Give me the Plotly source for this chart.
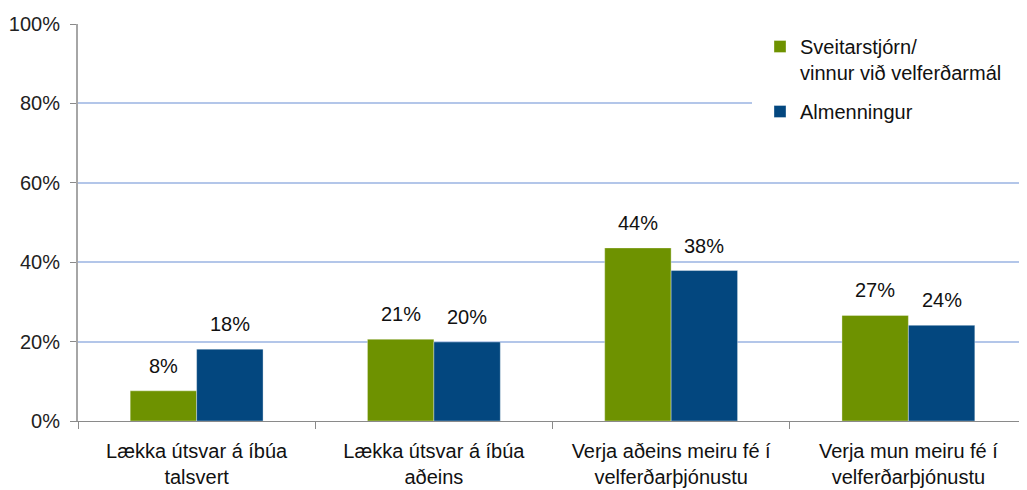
import plotly.graph_objects as go

categories = [
    "Lækka útsvar á íbúa<br>talsvert",
    "Lækka útsvar á íbúa<br>aðeins",
    "Verja aðeins meiru fé í<br>velferðarþjónustu",
    "Verja mun meiru fé í<br>velferðarþjónustu",
]
series_names = ["Sveitarstjórn/<br>vinnur við velferðarmál", "Almenningur"]
sveitarstjorn = [7.6, 20.6, 43.6, 26.6]
almenningur = [18.1, 19.9, 37.9, 24.1]
y_ticks = [0, 20, 40, 60, 80, 100]
y_tick_labels = ["0%", "20%", "40%", "60%", "80%", "100%"]

colors = ["#6E9200", "#03477F"]
FONT = "Liberation Sans, Arial, sans-serif"

# page body has an 8px margin; size the figure so the plot lands where the reference has it
OFF = 8
W, H = 1027 - OFF, 490 - OFF
ML, MR, MT, MB = 78 - OFF, 0, 24 - OFF, 69
plot_w = W - ML - MR
plot_h = H - MT - MB
cat_w = plot_w / len(categories)
BARGAP = 0.44
bar_w = cat_w * (1 - BARGAP) / 2


def px_to_paper_x(px):
    return (px - OFF - ML) / plot_w


def px_to_paper_y(py):
    return (H - MB - (py - OFF)) / plot_h


fig = go.Figure()
for i, (name, vals) in enumerate(zip(series_names, [sveitarstjorn, almenningur])):
    fig.add_trace(go.Bar(
        x=categories, y=vals, name=name,
        marker=dict(color=colors[i], line=dict(color="rgba(255,255,255,0.35)", width=1)),
        legendgroup=f"g{i}",
    ))
    for c, v in zip(categories, vals):
        fig.add_annotation(
            x=c, y=v, text=f"{v:.0f}%", showarrow=False,
            xref="x", yref="y", yanchor="bottom",
            xshift=(i - 0.5) * bar_w, yshift=12,
            font=dict(family=FONT, size=20, color="#111"),
        )

# white legend backdrop covering gridline
fig.add_shape(type="rect", xref="paper", yref="paper",
              x0=px_to_paper_x(752), x1=1.0,
              y0=px_to_paper_y(137), y1=px_to_paper_y(30),
              fillcolor="white", line=dict(width=0), layer="above")

fig.update_layout(
    width=W, height=H,
    margin=dict(l=ML, r=MR, t=MT, b=MB, autoexpand=False),
    paper_bgcolor="white", plot_bgcolor="white",
    barmode="group", bargap=BARGAP, bargroupgap=0.0,
    font=dict(family=FONT, size=20, color="#111"),
    legend=dict(
        x=px_to_paper_x(760), y=px_to_paper_y(27),
        xanchor="left", yanchor="top", bgcolor="rgba(0,0,0,0)",
        font=dict(family=FONT, size=20, color="#111"),
        valign="top", tracegroupgap=10, itemwidth=30,
    ),
    showlegend=True,
)
fig.update_xaxes(
    type="category", showline=True, linecolor="#8a8a8a", linewidth=1,
    ticks="outside", tickson="boundaries", ticklen=7, tickcolor="#8a8a8a",
    showgrid=False, tickfont=dict(family=FONT, size=20, color="#111"),
    ticklabelstandoff=12,
)
fig.update_yaxes(
    range=[0, 100], tickvals=y_ticks, ticktext=y_tick_labels,
    showline=True, linecolor="#a6a6a6", linewidth=2,
    ticks="outside", ticklen=6, tickcolor="#8a8a8a",
    showgrid=True, gridcolor="#B3C6E9", gridwidth=1.5,
    zeroline=False, tickfont=dict(family=FONT, size=20, color="#222"),
    ticklabelstandoff=6,
)
fig.write_html("out.html")
